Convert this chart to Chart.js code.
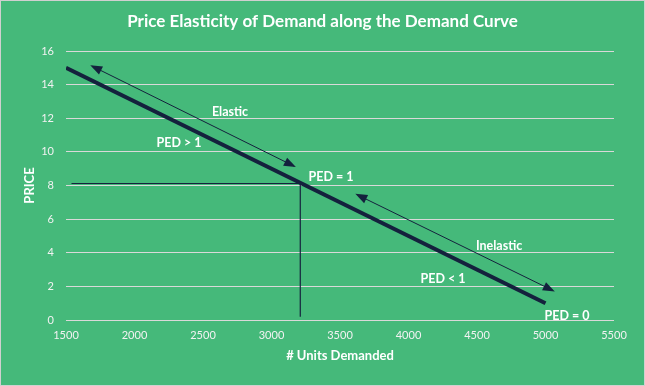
<!DOCTYPE html>
<html><head><meta charset="utf-8">
<script src="https://cdn.jsdelivr.net/npm/chart.js@4"></script>
<style>html,body{margin:0;padding:0;background:#fff}#wrap{width:645px;height:386px;position:relative}</style>
</head><body><div id="wrap"><canvas id="c"></canvas></div>
<script>
const titleText = 'Price Elasticity of Demand along the Demand Curve';
const xAxisTitle = '# Units Demanded';
const yAxisTitle = 'PRICE';
const xTicks = [1500, 2000, 2500, 3000, 3500, 4000, 4500, 5000, 5500];
const yTicks = [0, 2, 4, 6, 8, 10, 12, 14, 16];
const demandX = [1500, 5000];
const demandY = [15, 1];
const unitX = [1540, 3210, 3210];
const unitY = [8.12, 8.12, 0.2];
const elasticArrowX = [1690, 3165];
const elasticArrowY = [15.1, 9.15];
const inelasticArrowX = [3625, 5055];
const inelasticArrowY = [7.45, 1.75];
const labelTexts = ['Elastic', 'PED > 1', 'PED = 1', 'Inelastic', 'PED < 1', 'PED = 0'];
const labelX = [2697, 2325, 3434, 4661, 4252, 5157];
const labelY = [12.39, 10.53, 8.51, 4.40, 2.44, 0.24];

const GREEN = '#45B97A', NAVY = '#14213D', WHITE = '#FFFFFF', GRID = '#D9D9D9';
const FONT = 'Lato, "Open Sans", sans-serif';

const pts = (xs, ys) => xs.map((x, i) => ({x, y: ys[i]}));

const bgPlugin = {
  id: 'bg',
  beforeDraw(chart) {
    const {ctx, width, height} = chart;
    ctx.save();
    ctx.fillStyle = GREEN;
    ctx.fillRect(0, 0, width, height);
    ctx.strokeStyle = '#D0D0D0';
    ctx.lineWidth = 1;
    ctx.strokeRect(0.5, 0.5, width - 1, height - 1);
    ctx.fillStyle = WHITE;
    ctx.font = 'bold 17px ' + FONT;
    ctx.textAlign = 'center';
    ctx.textBaseline = 'middle';
    ctx.fillText(titleText, width / 2, 22);
    ctx.restore();
  }
};

function head(ctx, from, to) {
  const a = Math.atan2(to.y - from.y, to.x - from.x);
  const L = 10, W = 4.5;
  ctx.beginPath();
  ctx.moveTo(to.x + Math.cos(a) * 2, to.y + Math.sin(a) * 2);
  ctx.lineTo(to.x - Math.cos(a) * L + Math.sin(a) * W, to.y - Math.sin(a) * L - Math.cos(a) * W);
  ctx.lineTo(to.x - Math.cos(a) * L - Math.sin(a) * W, to.y - Math.sin(a) * L + Math.cos(a) * W);
  ctx.closePath();
  ctx.fill();
}

const overlayPlugin = {
  id: 'overlay',
  afterDatasetsDraw(chart) {
    const {ctx} = chart;
    ctx.save();
    ctx.fillStyle = NAVY;
    [2, 3].forEach(di => {
      const m = chart.getDatasetMeta(di).data;
      head(ctx, m[1], m[0]);
      head(ctx, m[0], m[1]);
    });
    const xs = chart.scales.x, ys = chart.scales.y;
    ctx.fillStyle = WHITE;
    ctx.font = 'bold 12.5px ' + FONT;
    ctx.textAlign = 'center';
    ctx.textBaseline = 'middle';
    labelTexts.forEach((t, i) => {
      ctx.fillText(t, xs.getPixelForValue(labelX[i]), ys.getPixelForValue(labelY[i]));
    });
    ctx.restore();
  }
};

new Chart(document.getElementById('c'), {
  type: 'scatter',
  data: {
    datasets: [
      {data: pts(demandX, demandY), showLine: true, borderColor: NAVY, borderWidth: 4, pointRadius: 0, borderCapStyle: 'butt'},
      {data: pts(unitX, unitY), showLine: true, borderColor: NAVY, borderWidth: 1.2, pointRadius: 0},
      {data: pts(elasticArrowX, elasticArrowY), showLine: true, borderColor: NAVY, borderWidth: 1, pointRadius: 0},
      {data: pts(inelasticArrowX, inelasticArrowY), showLine: true, borderColor: NAVY, borderWidth: 1, pointRadius: 0}
    ]
  },
  options: {
    responsive: true,
    maintainAspectRatio: false,
    animation: false,
    devicePixelRatio: 1,
    layout: {padding: {top: 51, right: 31, left: 0, bottom: 0}},
    plugins: {legend: {display: false}, tooltip: {enabled: false}, title: {display: false}},
    scales: {
      x: {
        type: 'linear', min: xTicks[0], max: xTicks[xTicks.length - 1],
        afterBuildTicks: s => { s.ticks = xTicks.map(v => ({value: v})); },
        afterFit: s => { s.height = 66; },
        grid: {display: false, drawTicks: false},
        border: {display: false},
        ticks: {color: '#F2F2F2', font: {family: FONT, size: 11}, padding: 9, maxRotation: 0, autoSkip: false, callback: v => String(v)},
        title: {display: true, text: xAxisTitle, color: WHITE, font: {family: FONT, size: 13, weight: 'bold'}, padding: {top: 0, bottom: 22}}
      },
      y: {
        type: 'linear', min: yTicks[0], max: yTicks[yTicks.length - 1],
        afterBuildTicks: s => { s.ticks = yTicks.map(v => ({value: v})); },
        afterFit: s => { s.width = 66; },
        grid: {color: GRID, lineWidth: 1, drawTicks: false},
        border: {display: false},
        ticks: {color: '#F2F2F2', font: {family: FONT, size: 11}, padding: 12, callback: v => String(v)},
        title: {display: true, text: yAxisTitle, color: WHITE, font: {family: FONT, size: 13, weight: 'bold'}, padding: {top: 22, bottom: 0}}
      }
    }
  },
  plugins: [bgPlugin, overlayPlugin]
});
</script>
</body></html>
